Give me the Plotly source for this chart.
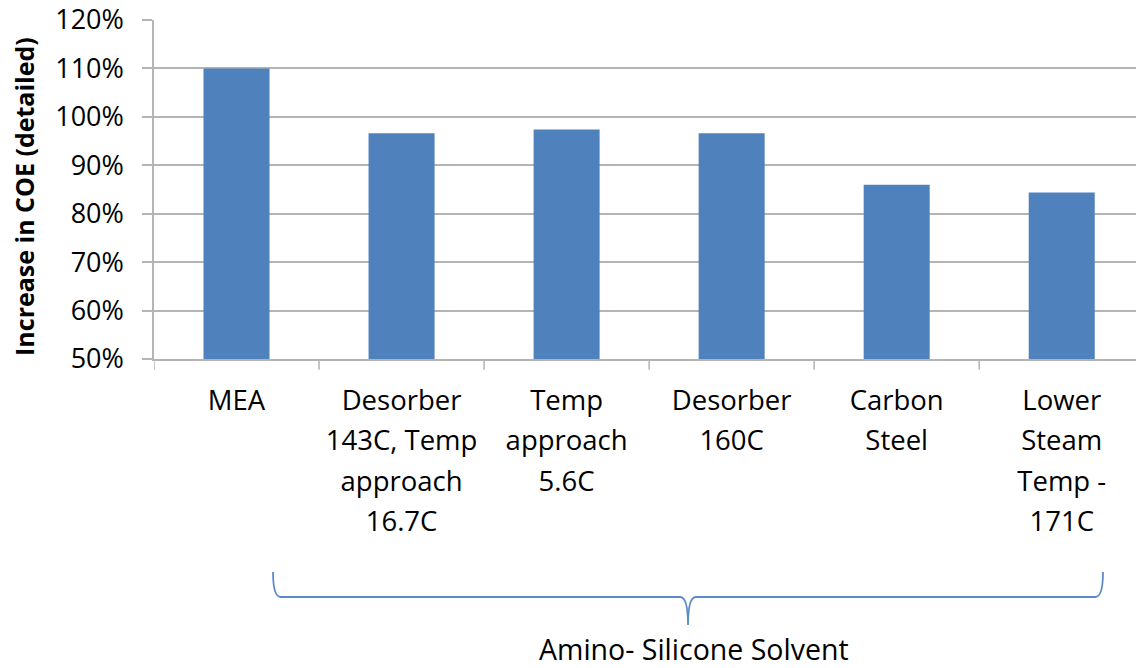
import plotly.graph_objects as go

# Chart data
categories = [
    "MEA",
    "Desorber<br>143C, Temp<br>approach<br>16.7C",
    "Temp<br>approach<br>5.6C",
    "Desorber<br>160C",
    "Carbon<br>Steel",
    "Lower<br>Steam<br>Temp -<br>171C",
]
coe_increase = [1.100, 0.966, 0.974, 0.966, 0.860, 0.844]
y_ticks = [0.5, 0.6, 0.7, 0.8, 0.9, 1.0, 1.1, 1.2]
y_title = "Increase in COE (detailed)"
group_label = "Amino- Silicone Solvent"

FONT = "Open Sans"
BAR_COLOR = "#4F81BD"
GRID = "#B4B4B4"
BRACE = "#5B8BC7"


def styled(label, size):
    # wrap every line so the glyphs are smaller than the line pitch
    return "<br>".join(
        f'<span style="font-size:{size}px">{part}</span>' for part in label.split("<br>")
    )


x_idx = list(range(len(categories)))

fig = go.Figure(
    go.Bar(
        x=x_idx,
        y=coe_increase,
        width=0.4,
        marker=dict(color=BAR_COLOR, line=dict(width=0)),
        hoverinfo="skip",
    )
)

fig.update_layout(
    width=1136,
    height=668,
    margin=dict(l=154, r=0, t=20, b=309),
    paper_bgcolor="white",
    plot_bgcolor="white",
    showlegend=False,
    font=dict(family=FONT, color="#000000"),
)

fig.update_xaxes(
    range=[-0.5, 5.45],
    tickmode="array",
    tickvals=x_idx,
    ticktext=[styled(c, 27.5) for c in categories],
    tickfont=dict(family=FONT, size=31, color="#000000"),
    showgrid=False,
    showline=True,
    linecolor=GRID,
    linewidth=1.5,
    ticks="",
    zeroline=False,
    ticklabelstandoff=12,
)

# tick marks at the category boundaries, drawn below the axis
for b in [i - 0.5 for i in range(len(categories) + 1)]:
    fig.add_shape(
        type="line", xref="x", yref="paper", x0=b, x1=b, y0=0, y1=-0.032,
        line=dict(color=GRID, width=1.5),
    )

fig.update_yaxes(
    range=[0.5, 1.2],
    tickmode="array",
    tickvals=y_ticks,
    tickformat=".0%",
    tickfont=dict(family=FONT, size=27, color="#000000"),
    showgrid=True,
    gridcolor=GRID,
    gridwidth=1.5,
    showline=True,
    linecolor=GRID,
    linewidth=1.5,
    ticks="outside",
    ticklen=10,
    tickcolor=GRID,
    tickwidth=1.5,
    zeroline=False,
    ticklabelstandoff=13,
)

# rotated axis title
fig.add_annotation(
    text=y_title, xref="paper", yref="paper", x=-0.1324, y=0.481,
    xanchor="center", yanchor="middle", textangle=-90, showarrow=False,
    font=dict(family=FONT, size=25, color="#000000", weight="bold"),
)

# curly brace grouping the amino-silicone cases
xl, xr = 0.1212, 0.9664
xc = (xl + xr) / 2
yt, ym, ytip = -0.628, -0.702, -0.785
rx = 0.008
brace_path = (
    f"M {xl},{yt} Q {xl},{ym} {xl + rx},{ym} "
    f"L {xc - rx},{ym} Q {xc},{ym} {xc},{ytip} "
    f"M {xc},{ytip} Q {xc},{ym} {xc + rx},{ym} "
    f"L {xr - rx},{ym} Q {xr},{ym} {xr},{yt}"
)
fig.add_shape(
    type="path", xref="paper", yref="paper", path=brace_path,
    line=dict(color=BRACE, width=1.8),
)

fig.add_annotation(
    text=group_label, xref="paper", yref="paper", x=xc + 0.0065, y=-0.855,
    xanchor="center", yanchor="middle", showarrow=False,
    font=dict(family=FONT, size=28.5, color="#000000"),
)

fig.write_html("out.html")
